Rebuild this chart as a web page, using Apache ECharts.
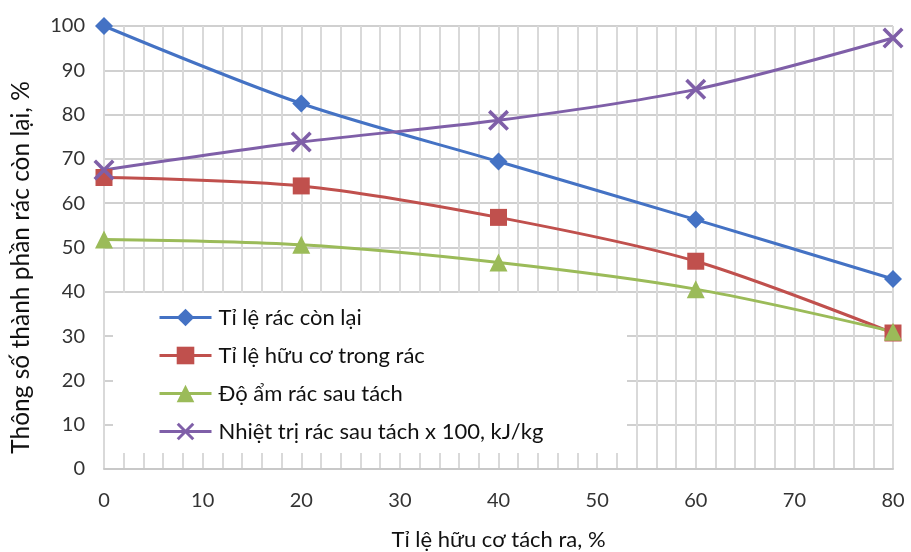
<!DOCTYPE html>
<html><head><meta charset="utf-8">
<script src="https://cdn.jsdelivr.net/npm/echarts@6/dist/echarts.min.js"></script>
<style>html,body{margin:0;padding:0;background:#fff}#c{width:911px;height:552px}</style>
</head><body><div id="c"></div>
<script>
const xValues = [0, 20, 40, 60, 80];
const seriesNames = ['Tỉ lệ rác còn lại', 'Tỉ lệ hữu cơ trong rác', 'Độ ẩm rác sau tách', 'Nhiệt trị rác sau tách x 100, kJ/kg'];
const remaining = [100, 82.5, 69.4, 56.3, 42.9];
const organic = [65.8, 63.9, 56.8, 46.9, 30.7];
const moisture = [51.8, 50.6, 46.6, 40.6, 31];
const heatValue = [67.5, 73.8, 78.7, 85.7, 97.3];
const seriesValues = [remaining, organic, moisture, heatValue];

const colors = ['#4472C4', '#C0504D', '#9BBB59', '#7F5FA8'];
const xPath = 'path://M0,1.2L1.2,0L5,3.8L8.8,0L10,1.2L6.2,5L10,8.8L8.8,10L5,6.2L1.2,10L0,8.8L3.8,5Z';
const symbols = ['diamond', 'rect', 'triangle', xPath];
const symbolSizes = [18, 17, 18, 21];
const FONT = 'Lato';

const chart = echarts.init(document.getElementById('c'), null, {renderer: 'canvas'});
chart.setOption({
  animation: false,
  backgroundColor: '#fff',
  textStyle: {fontFamily: FONT},
  grid: {left: 104, right: 18, top: 26, bottom: 83, containLabel: false, outerBoundsMode: 'none'},
  graphic: [{
    type: 'rect', z: 1, silent: true,
    shape: {x: 113, y: 293, width: 514, height: 160},
    style: {fill: '#ffffff'}
  }],
  legend: {
    orient: 'vertical', left: 153, top: 301, z: 5,
    itemWidth: 52, itemHeight: 22, itemGap: 15,
    data: seriesNames,
    lineStyle: {width: 3},
    textStyle: {fontFamily: FONT, fontSize: 22, color: '#111', lineHeight: 23, padding: [0, 0, 0, 2]}
  },
  xAxis: {
    type: 'value', min: 0, max: 80, interval: 10,
    name: 'Tỉ lệ hữu cơ tách ra, %', nameLocation: 'middle', nameGap: 60,
    nameTextStyle: {fontFamily: FONT, fontSize: 22, color: '#111'},
    axisLine: {show: true, lineStyle: {color: '#c8c8c8', width: 2}},
    axisTick: {show: false},
    axisLabel: {fontFamily: FONT, fontSize: 20, color: '#333', margin: 22},
    splitLine: {show: true, lineStyle: {color: '#d9d9d9', width: 2}},
    minorTick: {show: false, splitNumber: 5},
    minorSplitLine: {show: true, lineStyle: {color: '#d9d9d9', width: 2}}
  },
  yAxis: {
    type: 'value', min: 0, max: 100, interval: 10,
    name: 'Thông số thành phần rác còn lại, %', nameLocation: 'middle', nameGap: 70,
    nameTextStyle: {fontFamily: FONT, fontSize: 24.5, color: '#111', padding: [0, 40, 0, 0]},
    axisLine: {show: false},
    axisTick: {show: false},
    axisLabel: {fontFamily: FONT, fontSize: 20, color: '#333', margin: 19},
    splitLine: {show: true, lineStyle: {color: '#d0d0d0', width: 2}}
  },
  series: seriesNames.map((n, i) => ({
    name: n, type: 'line', smooth: 0.3, z: 3,
    data: xValues.map((x, j) => [x, seriesValues[i][j]]),
    symbol: symbols[i], symbolSize: symbolSizes[i],
    showAllSymbol: true,
    lineStyle: {color: colors[i], width: 3},
    itemStyle: {color: colors[i]}
  }))
});
</script></body></html>
